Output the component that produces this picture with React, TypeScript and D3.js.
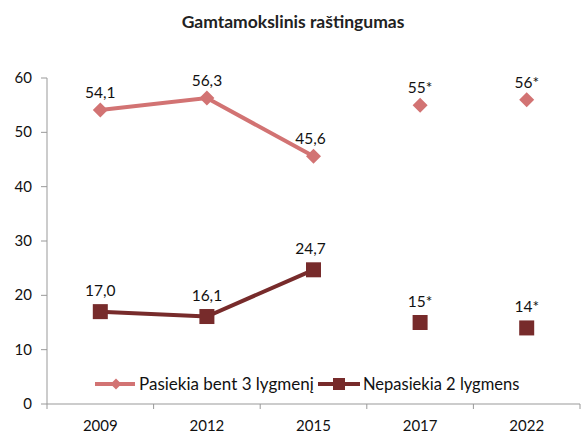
import React from "react";
import * as d3 from "d3";

const years = ["2009", "2012", "2015", "2017", "2022"];
const reachL3 = [54.1, 56.3, 45.6, 55, 56];
const reachL3Labels = ["54,1", "56,3", "45,6", "55*", "56*"];
const belowL2 = [17.0, 16.1, 24.7, 15, 14];
const belowL2Labels = ["17,0", "16,1", "24,7", "15*", "14*"];
const connected = 3; // first N points joined by a line
const yTicks = [0, 10, 20, 30, 40, 50, 60];
const title = "Gamtamokslinis raštingumas";
const seriesNames = ["Pasiekia bent 3 lygmenį", "Nepasiekia 2 lygmens"];

const W = 581, H = 434;
const M = { left: 47, right: 580, top: 78, bottom: 404 };
const light = "#D27373";
const dark = "#772B2B";
const font = "Lato, 'Open Sans', sans-serif";

export default function App() {
  const x = d3.scaleBand().domain(years).range([M.left, M.right]);
  const y = d3.scaleLinear().domain([0, 60]).range([M.bottom, M.top]);
  const cx = (i: number) => (x(years[i]) as number) + x.bandwidth() / 2;
  const line = d3.line<number>().x((_, i) => cx(i)).y((d) => y(d));
  const diamond = (px: number, py: number, r = 7.5) =>
    `M${px},${py - r}L${px + r},${py}L${px},${py + r}L${px - r},${py}Z`;
  const boundaries = [...years.map((c) => x(c) as number), M.right];

  return (
    <svg width={W} height={H} style={{ position: "absolute", left: 0, top: 0 }}>
      <rect width={W} height={H} fill="#fff" />
      <text x={293} y={28} textAnchor="middle" fontFamily={font} fontWeight="bold" fontSize={17.5} fill="#222">
        {title}
      </text>
      {/* axes */}
      <line x1={M.left} x2={M.left} y1={M.top} y2={M.bottom} stroke="#999" />
      <line x1={M.left} x2={M.right} y1={M.bottom} y2={M.bottom} stroke="#999" />
      {yTicks.map((t) => (
        <g key={t}>
          <line x1={M.left - 6} x2={M.left} y1={y(t)} y2={y(t)} stroke="#999" />
          <text x={32} y={y(t) + 5} textAnchor="end" fontFamily={font} fontSize={15} fill="#111">
            {t}
          </text>
        </g>
      ))}
      {boundaries.map((b, i) => (
        <line key={i} x1={b} x2={b} y1={M.bottom} y2={M.bottom + 5} stroke="#999" />
      ))}
      {years.map((c, i) => (
        <text key={c} x={cx(i)} y={431} textAnchor="middle" fontFamily={font} fontSize={15} fill="#111">
          {c}
        </text>
      ))}
      {/* series lines */}
      <path d={line(reachL3.slice(0, connected)) || ""} fill="none" stroke={light} strokeWidth={4} />
      <path d={line(belowL2.slice(0, connected)) || ""} fill="none" stroke={dark} strokeWidth={4} />
      {reachL3.map((v, i) => (
        <g key={"a" + i}>
          <path d={diamond(cx(i), y(v))} fill={light} />
          <text x={cx(i) + (i === 2 ? -3 : 0)} y={y(v) - 12} textAnchor="middle" fontFamily={font} fontSize={15.5} fill="#111">
            {reachL3Labels[i]}
          </text>
        </g>
      ))}
      {belowL2.map((v, i) => (
        <g key={"b" + i}>
          <rect x={cx(i) - 7.5} y={y(v) - 7.5} width={15} height={15} fill={dark} />
          <text x={cx(i) + (i === 2 ? -3 : 0)} y={y(v) - 16} textAnchor="middle" fontFamily={font} fontSize={15.5} fill="#111">
            {belowL2Labels[i]}
          </text>
        </g>
      ))}
      {/* legend */}
      <g>
        <line x1={95} x2={135} y1={384} y2={384} stroke={light} strokeWidth={4} />
        <path d={diamond(116, 384, 5.5)} fill={light} />
        <text x={139} y={389.5} fontFamily={font} fontSize={17} fill="#111">
          {seriesNames[0]}
        </text>
        <line x1={318} x2={360} y1={384} y2={384} stroke={dark} strokeWidth={4} />
        <rect x={333} y={378} width={12} height={12} fill={dark} />
        <text x={363} y={389.5} fontFamily={font} fontSize={16.5} fill="#111">
          {seriesNames[1]}
        </text>
      </g>
    </svg>
  );
}
